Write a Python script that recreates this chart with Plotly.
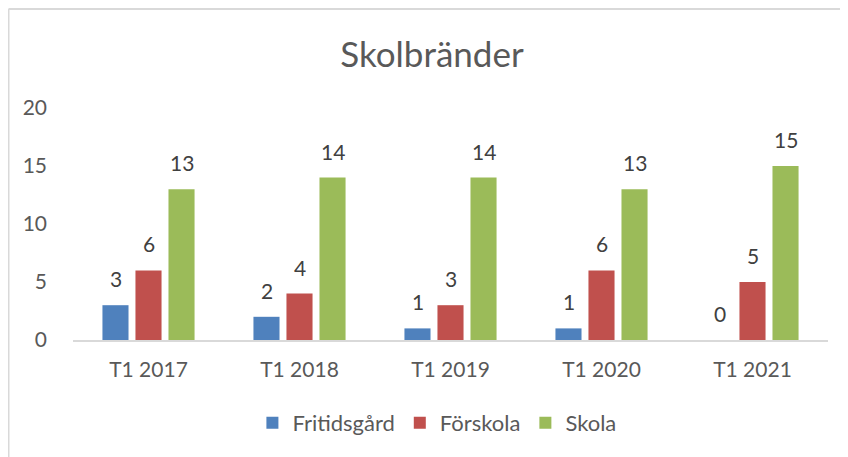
import plotly.graph_objects as go

categories = ["T1 2017", "T1 2018", "T1 2019", "T1 2020", "T1 2021"]
fritidsgard = [3, 2, 1, 1, 0]
forskola = [6, 4, 3, 6, 5]
skola = [13, 14, 14, 13, 15]

series = [
    ("Fritidsgård", fritidsgard, "#4F81BD"),
    ("Förskola", forskola, "#C0504D"),
    ("Skola", skola, "#9BBB59"),
]

FONT = "Lato, Open Sans, sans-serif"
TXT = "#595959"

L, T, PW, PH = 65, 100, 755, 232

fig = go.Figure()
annotations = []
shifts = [-33, 0, 33]
for (name, vals, col), xs in zip(series, shifts):
    fig.add_trace(go.Bar(
        x=categories, y=vals, name=name,
        marker=dict(color=col, line=dict(width=0)),
        cliponaxis=False,
    ))
    for c, v in zip(categories, vals):
        annotations.append(dict(
            x=c, y=v, xref="x", yref="y", text=str(v), showarrow=False,
            xshift=xs, yshift=12, yanchor="bottom", xanchor="center",
            font=dict(family=FONT, size=21, color="#404040"),
        ))

fig.update_layout(
    width=848, height=457,
    margin=dict(l=L, r=848 - L - PW, t=T, b=457 - T - PH),
    paper_bgcolor="white", plot_bgcolor="white",
    barmode="group", bargap=0.344, bargroupgap=0.21,
    title=dict(text="Skolbränder", x=0.5, xanchor="center", y=1 - 47 / 457, yanchor="middle",
               font=dict(family=FONT, size=35, color=TXT)),
    font=dict(family=FONT, color=TXT),
    showlegend=True,
    legend=dict(orientation="h", x=0.482, xanchor="center", y=-0.358, yanchor="middle",
                font=dict(family=FONT, size=22, color=TXT), traceorder="normal"),
    xaxis=dict(showgrid=False, showline=True, linecolor="#D9D9D9", linewidth=1.5,
               ticks="", tickfont=dict(family=FONT, size=21, color=TXT), ticklabelstandoff=10),
    yaxis=dict(range=[0, 20], dtick=5, showgrid=False, showline=False, zeroline=False,
               ticks="", tickfont=dict(family=FONT, size=21, color=TXT), ticklabelstandoff=25),
    annotations=annotations,
    shapes=[
        dict(type="line", xref="paper", yref="paper", x0=(0.5 - L) / PW, x1=1.2,
             y0=(T + PH - 1) / PH, y1=(T + PH - 1) / PH, line=dict(color="#D9D9D9", width=2)),
        dict(type="line", xref="paper", yref="paper", x0=(0.5 - L) / PW, x1=(0.5 - L) / PW,
             y0=(T + PH - 1) / PH, y1=-0.7, line=dict(color="#D9D9D9", width=2)),
    ],
)

fig.write_html("out.html")
